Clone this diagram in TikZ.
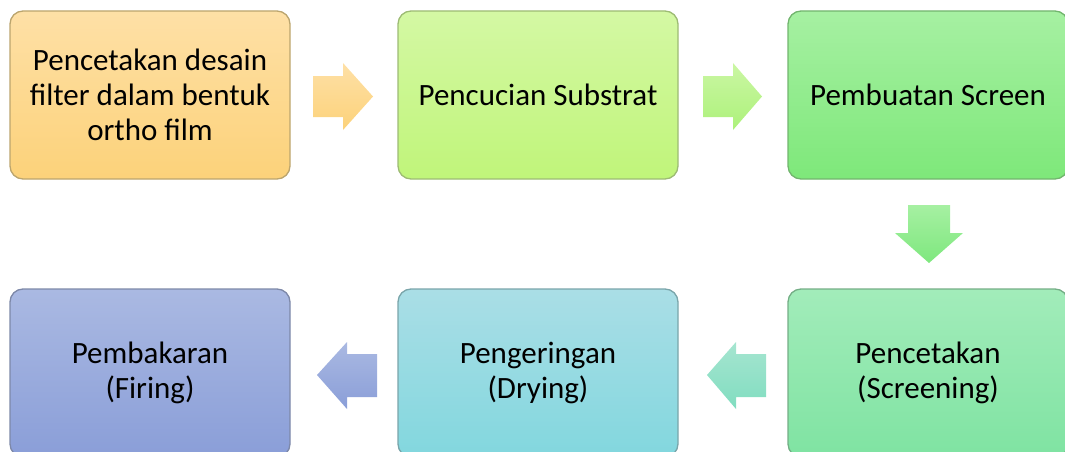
\documentclass[tikz,border=0pt]{standalone}
\usepackage{fontspec}
\setmainfont{Carlito}
\begin{document}
\begin{tikzpicture}[x=1pt,y=-1pt,
  stepbox/.style={rectangle, rounded corners=13pt, minimum width=280pt, minimum height=168pt,
    line width=1.3pt, align=center, font=\fontsize{31}{35}\selectfont, inner sep=0pt}
]
\useasboundingbox (0,0) rectangle (1065,452);
\clip (0,0) rectangle (1065,452);
\definecolor{o1}{HTML}{FEE0A6}\definecolor{o2}{HTML}{FCD27A}\definecolor{ob}{HTML}{BBA56E}
\definecolor{g1}{HTML}{D4F8A4}\definecolor{g2}{HTML}{C0F57A}\definecolor{gb}{HTML}{9DBB74}
\definecolor{h1}{HTML}{A6F0A2}\definecolor{h2}{HTML}{7EE87A}\definecolor{hb}{HTML}{72B56E}
\definecolor{s1}{HTML}{A2ECBA}\definecolor{s2}{HTML}{7FE3A2}\definecolor{sb}{HTML}{74AE86}
\definecolor{t1}{HTML}{AADEE6}\definecolor{t2}{HTML}{82D7DE}\definecolor{tb}{HTML}{7AA5AA}
\definecolor{b1}{HTML}{AAB9E2}\definecolor{b2}{HTML}{8A9ED8}\definecolor{bb}{HTML}{7D88A8}

\node[stepbox, top color=o1, bottom color=o2, draw=ob] (n1) at (150,95) {Pencetakan desain\\filter dalam bentuk\\ortho film};
\node[stepbox, top color=g1, bottom color=g2, draw=gb] (n2) at (538,95) {Pencucian Substrat};
\node[stepbox, top color=h1, bottom color=h2, draw=hb] (n3) at (928,95) {Pembuatan Screen};
\node[stepbox, top color=s1, bottom color=s2, draw=sb] (n4) at (928,373) {Pencetakan\\(Screening)};
\node[stepbox, top color=t1, bottom color=t2, draw=tb] (n5) at (538,373) {Pengeringan\\(Drying)};
\node[stepbox, top color=b1, bottom color=b2, draw=bb] (n6) at (150,373) {Pembakaran\\(Firing)};

% right arrows
\coordinate (a1) at (313,96.5);
\shade[top color=o1, bottom color=o2] (a1) ++(0,-20.5) -- ++(30,0) -- ++(0,-13) -- ++(30,33.5) -- ++(-30,33.5) -- ++(0,-13) -- ++(-30,0) -- cycle;
\coordinate (a2) at (703,96.5);
\shade[top color=g1!80!h1, bottom color=g2!70!h2] (a2) ++(0,-20.5) -- ++(30,0) -- ++(0,-13) -- ++(29,33.5) -- ++(-29,33.5) -- ++(0,-13) -- ++(-30,0) -- cycle;
% down arrow
\coordinate (a3) at (929,205);
\shade[top color=h1, bottom color=h2!90!s2] (a3) ++(-21,0) -- ++(42,0) -- ++(0,28) -- ++(13,0) -- ++(-34,30) -- ++(-34,-30) -- ++(13,0) -- cycle;
% left arrows
\coordinate (a4) at (766,375);
\shade[top color=s1!50!t1, bottom color=s2!50!t2] (a4) ++(0,-21) -- ++(-30,0) -- ++(0,-12) -- ++(-29,33) -- ++(29,34) -- ++(0,-12) -- ++(30,0) -- cycle;
\coordinate (a5) at (377,375);
\shade[top color=b1, bottom color=b2] (a5) ++(0,-21) -- ++(-30,0) -- ++(0,-12) -- ++(-30,33) -- ++(30,34) -- ++(0,-12) -- ++(30,0) -- cycle;
\end{tikzpicture}
\end{document}
